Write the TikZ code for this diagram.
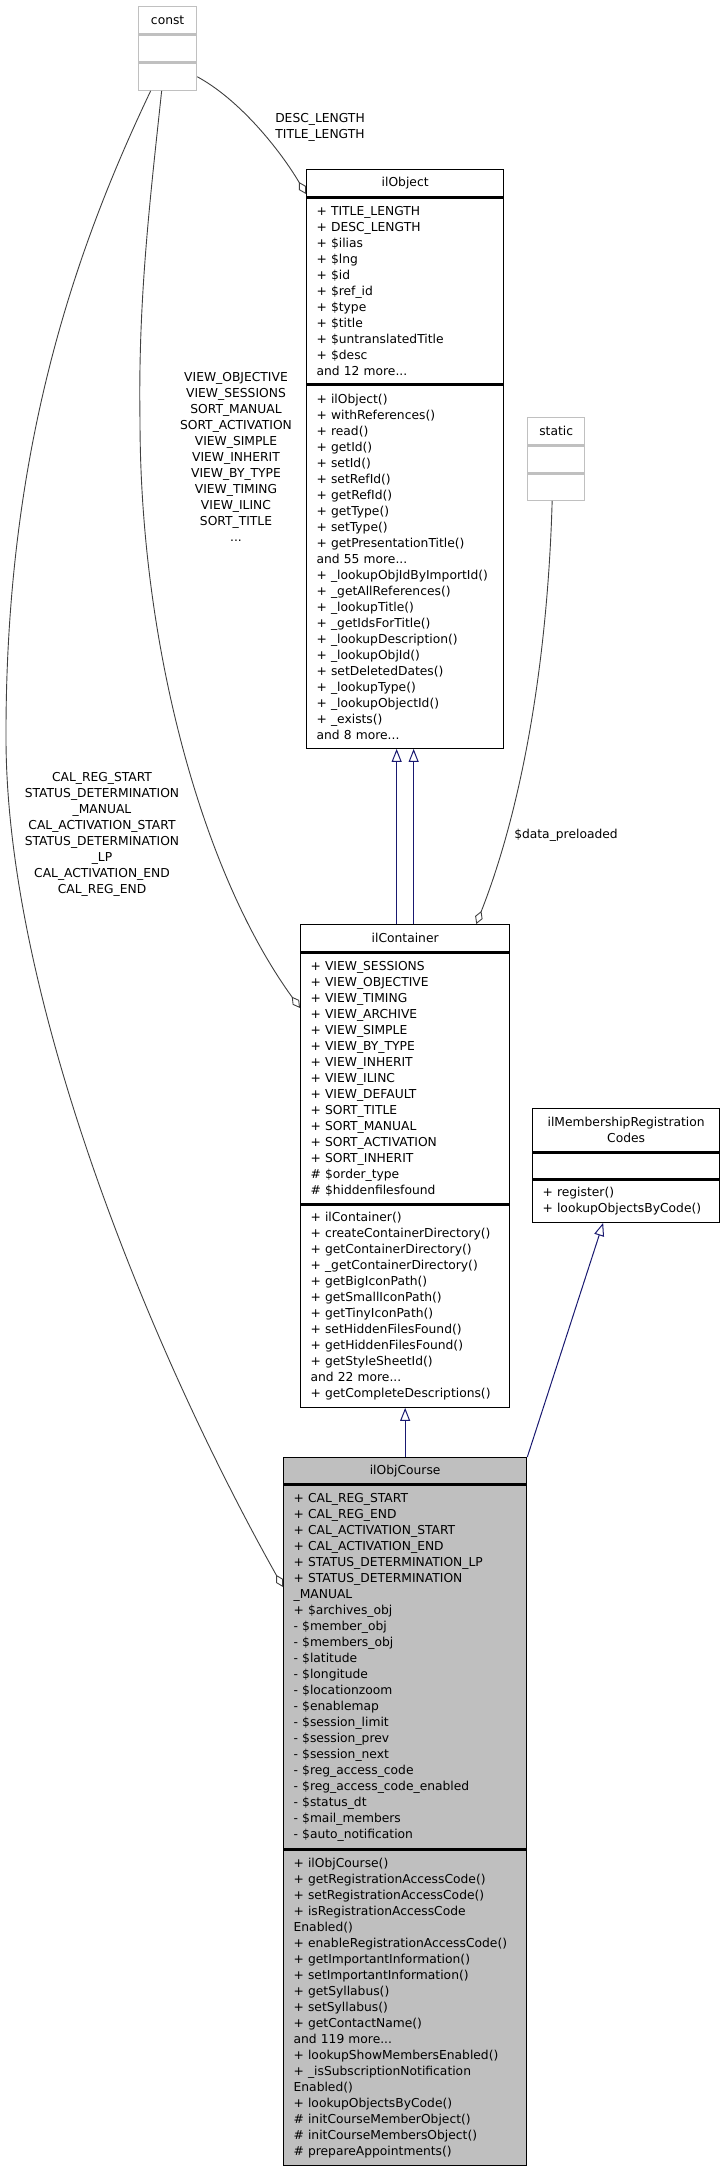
\documentclass[tikz,border=0pt]{standalone}
\usepackage{fontspec}
\setmainfont{DejaVu Sans}
\usepackage{tikz}
\usetikzlibrary{positioning,
                arrows.meta}
\definecolor{coursegray}{HTML}{BFBFBF}
\definecolor{extgray}{HTML}{C0C0C0}
\definecolor{edgegray}{HTML}{404040}
\definecolor{inheritblue}{HTML}{191970}

\begin{document}
\begin{tikzpicture}[x=1pt,y=-1pt]

\tikzset{
umlpart/.style={
draw=black,
line width=1.3pt,
fill=white,
inner xsep=10pt,
inner ysep=0pt,
font=\fontsize{12.3}{16}\selectfont
},
umltitle/.style={umlpart,align=center},
umlbody/.style={umlpart,align=left},
extpart/.style={umlpart,draw=extgray,align=center},
edgelabel/.style={
align=center,
inner sep=0pt,
font=\fontsize{12.3}{16}\selectfont
},
member/.style={draw=edgegray,line width=0.9pt,-{Diamond[open,length=14pt,width=8pt]}},
inherit/.style={draw=inheritblue,line width=1pt,{Triangle[open,length=13pt,width=10pt]}-}
}

\useasboundingbox (0,0) rectangle (725,2168);

%----------------------------------
% CONST
%----------------------------------

\node[extpart,text width=38pt,minimum height=27pt,anchor=north west] (const) at (138,6) {const};
\node[extpart,text width=38pt,minimum height=27pt,below=0pt of const] (constattr) {};
\node[extpart,text width=38pt,minimum height=27pt,below=0pt of constattr] (constops) {};

%----------------------------------
% STATIC
%----------------------------------

\node[extpart,text width=37pt,minimum height=27pt,anchor=north west] (static) at (527,417) {static};
\node[extpart,text width=37pt,minimum height=27pt,below=0pt of static] (staticattr) {};
\node[extpart,text width=37pt,minimum height=26pt,below=0pt of staticattr] (staticops) {};

%----------------------------------
% ILOBJECT
%----------------------------------

\node[umltitle,text width=177pt,minimum height=27pt,anchor=north west] (obj) at (306,169) {ilObject};
\node[umlbody,text width=177pt,minimum height=186pt,below=0pt of obj] (objattr)
{+ TITLE\_LENGTH\\+ DESC\_LENGTH\\+ \$ilias\\+ \$lng\\+ \$id\\+ \$ref\_id\\+ \$type\\+ \$title\\+ \$untranslatedTitle\\+ \$desc\\and 12 more...};
\node[umlbody,text width=177pt,minimum height=363pt,below=0pt of objattr] (objops)
{+ ilObject()\\+ withReferences()\\+ read()\\+ getId()\\+ setId()\\+ setRefId()\\+ getRefId()\\+ getType()\\+ setType()\\+ getPresentationTitle()\\and 55 more...\\+ \_lookupObjIdByImportId()\\+ \_getAllReferences()\\+ \_lookupTitle()\\+ \_getIdsForTitle()\\+ \_lookupDescription()\\+ \_lookupObjId()\\+ setDeletedDates()\\+ \_lookupType()\\+ \_lookupObjectId()\\+ \_exists()\\and 8 more...};

%----------------------------------
% ILCONTAINER
%----------------------------------

\node[umltitle,text width=189pt,minimum height=27pt,anchor=north west] (cont) at (300,924) {ilContainer};
\node[umlbody,text width=189pt,minimum height=251pt,below=0pt of cont] (contattr)
{+ VIEW\_SESSIONS\\+ VIEW\_OBJECTIVE\\+ VIEW\_TIMING\\+ VIEW\_ARCHIVE\\+ VIEW\_SIMPLE\\+ VIEW\_BY\_TYPE\\+ VIEW\_INHERIT\\+ VIEW\_ILINC\\+ VIEW\_DEFAULT\\+ SORT\_TITLE\\+ SORT\_MANUAL\\+ SORT\_ACTIVATION\\+ SORT\_INHERIT\\\# \$order\_type\\\# \$hiddenfilesfound};
\node[umlbody,text width=189pt,minimum height=202pt,below=0pt of contattr] (contops)
{+ ilContainer()\\+ createContainerDirectory()\\+ getContainerDirectory()\\+ \_getContainerDirectory()\\+ getBigIconPath()\\+ getSmallIconPath()\\+ getTinyIconPath()\\+ setHiddenFilesFound()\\+ getHiddenFilesFound()\\+ getStyleSheetId()\\and 22 more...\\+ getCompleteDescriptions()};

%----------------------------------
% ILMEMBERSHIPREGISTRATIONCODES
%----------------------------------

\node[umltitle,text width=167pt,minimum height=43pt,anchor=north west] (mrc) at (532,1108) {ilMembershipRegistration\\Codes};
\node[umlbody,text width=167pt,minimum height=26pt,below=0pt of mrc] (mrcattr) {};
\node[umlbody,text width=167pt,minimum height=42pt,below=0pt of mrcattr] (mrcops)
{+ register()\\+ lookupObjectsByCode()};

%----------------------------------
% ILOBJCOURSE
%----------------------------------

\node[umltitle,fill=coursegray,text width=223pt,minimum height=26pt,anchor=north west] (course) at (283,1457) {ilObjCourse};
\node[umlbody,fill=coursegray,text width=223pt,minimum height=364pt,below=0pt of course] (courseattr)
{+ CAL\_REG\_START\\+ CAL\_REG\_END\\+ CAL\_ACTIVATION\_START\\+ CAL\_ACTIVATION\_END\\+ STATUS\_DETERMINATION\_LP\\+ STATUS\_DETERMINATION\\\_MANUAL\\+ \$archives\_obj\\- \$member\_obj\\- \$members\_obj\\- \$latitude\\- \$longitude\\- \$locationzoom\\- \$enablemap\\- \$session\_limit\\- \$session\_prev\\- \$session\_next\\- \$reg\_access\_code\\- \$reg\_access\_code\_enabled\\- \$status\_dt\\- \$mail\_members\\- \$auto\_notification};
\node[umlbody,fill=coursegray,text width=223pt,minimum height=315pt,below=0pt of courseattr] (courseops)
{+ ilObjCourse()\\+ getRegistrationAccessCode()\\+ setRegistrationAccessCode()\\+ isRegistrationAccessCode\\Enabled()\\+ enableRegistrationAccessCode()\\+ getImportantInformation()\\+ setImportantInformation()\\+ getSyllabus()\\+ setSyllabus()\\+ getContactName()\\and 119 more...\\+ lookupShowMembersEnabled()\\+ \_isSubscriptionNotification\\Enabled()\\+ lookupObjectsByCode()\\\# initCourseMemberObject()\\\# initCourseMembersObject()\\\# prepareAppointments()};

%----------------------------------
% MEMBER EDGES
%----------------------------------

\draw[member] (constops.east) .. controls (240,100) and (280,150) .. ([yshift=-25pt]obj.north west);
\node[edgelabel] (lblobj) at (320,127) {DESC\_LENGTH\\TITLE\_LENGTH};

\draw[member] ([xshift=-6pt]constops.south) .. controls (150,200) and (138,300) .. (140,420)
  .. controls (140,640) and (200,870) .. ([yshift=-84pt]cont.north west);
\node[edgelabel] (lblcont) at (236,457)
{VIEW\_OBJECTIVE\\VIEW\_SESSIONS\\SORT\_MANUAL\\SORT\_ACTIVATION\\VIEW\_SIMPLE\\VIEW\_INHERIT\\VIEW\_BY\_TYPE\\VIEW\_TIMING\\VIEW\_ILINC\\SORT\_TITLE\\...};

\draw[member] ([xshift=-17pt]constops.south) .. controls (75,250) and (5,450) .. (6,740)
  .. controls (7,1000) and (150,1350) .. ([yshift=-130pt]course.north west);
\node[edgelabel] (lblcourse) at (102,834)
{CAL\_REG\_START\\STATUS\_DETERMINATION\\\_MANUAL\\CAL\_ACTIVATION\_START\\STATUS\_DETERMINATION\\\_LP\\CAL\_ACTIVATION\_END\\CAL\_REG\_END};

\draw[member] ([xshift=-4pt]staticops.south) .. controls (548,650) and (525,800) .. ([xshift=-34pt]cont.north east);
\node[edgelabel] (lblstatic) at (566,835) {\$data\_preloaded};

%----------------------------------
% INHERITANCE
%----------------------------------

\draw[inherit] ([xshift=-8.5pt]objops.south) -- ([xshift=-8.5pt]cont.north);
\draw[inherit] ([xshift=8.5pt]objops.south) -- ([xshift=8.5pt]cont.north);
\draw[inherit] (contops.south) -- (course.north);
\draw[inherit] ([xshift=-23pt]mrcops.south) -- (course.north east);

\end{tikzpicture}
\end{document}
